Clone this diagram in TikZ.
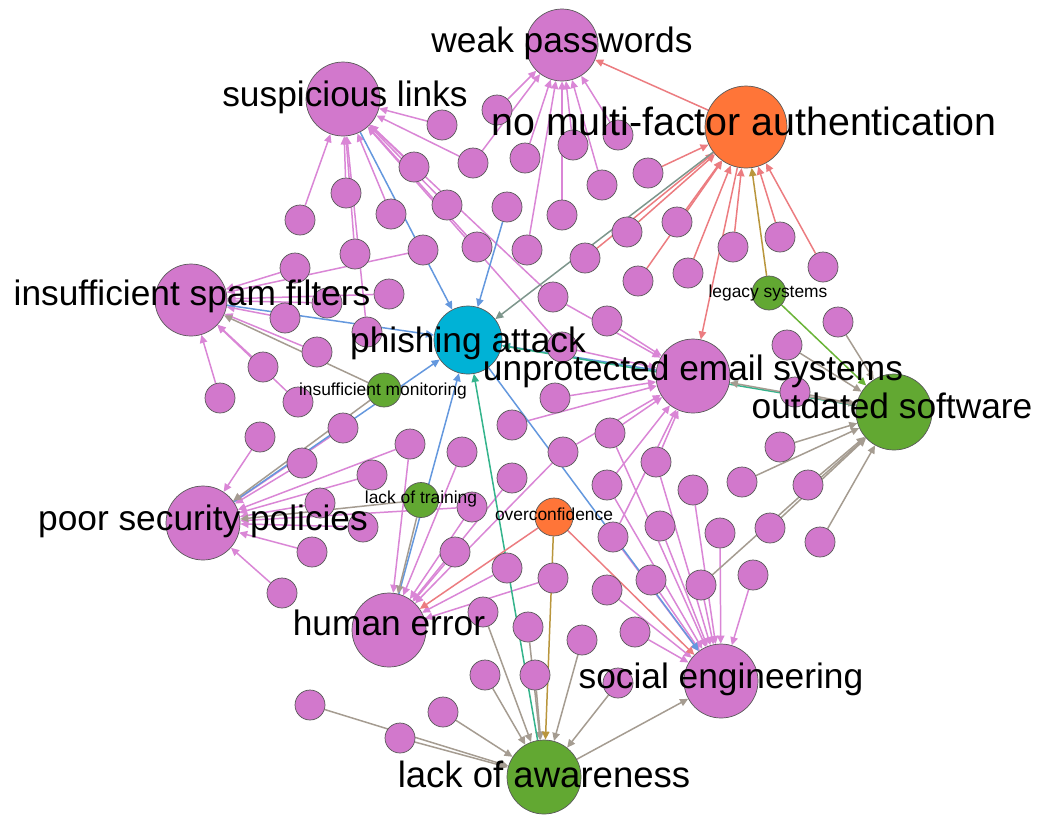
\documentclass[tikz,border=0pt]{standalone}
\usepackage{fontspec}
\setmainfont{Liberation Sans}
\usetikzlibrary{arrows.meta}
\pgfdeclarelayer{bg}
\pgfdeclarelayer{edges}
\pgfdeclarelayer{labels}
\pgfsetlayers{bg,edges,main,labels}

% node fills
\definecolor{hubpink}{RGB}{210,120,204}
\definecolor{hubcyan}{RGB}{0,178,214}
\definecolor{huborange}{RGB}{255,117,56}
\definecolor{hubgreen}{RGB}{98,168,50}
% edge colours (blend of the two end colours)
\definecolor{epink}{RGB}{218,134,214}
\definecolor{esalmon}{RGB}{236,124,128}
\definecolor{egrey}{RGB}{165,156,145}
\definecolor{eblue}{RGB}{100,152,222}
\definecolor{eteal}{RGB}{52,180,140}
\definecolor{egold}{RGB}{185,150,60}
\definecolor{egreen}{RGB}{105,180,55}
\definecolor{egreyg}{RGB}{125,150,140}

\newcommand\hubfont{\fontsize{20.1pt}{24pt}\selectfont}
\newcommand\mfafont{\fontsize{22.4pt}{26pt}\selectfont}
\newcommand\bigerfont{\fontsize{20.8pt}{25pt}\selectfont}
\newcommand\minorfont{\fontsize{9.9pt}{12pt}\selectfont}

\tikzset{
  hub/.style={circle, draw=black!65, line width=0.4pt, inner sep=0pt, minimum size=#1},
  leaf/.style={circle, draw=black!65, line width=0.4pt, inner sep=0pt, minimum size=0.6cm, fill=hubpink},
  edge/.style={line width=0.85pt, -{Triangle[length=4.6pt,width=4.2pt]}},
  lab/.style={inner sep=0pt, anchor=base, text=black}
}

\begin{document}
\begin{tikzpicture}[x=0.02cm,y=-0.02cm]
\useasboundingbox (0,0) rectangle (1050,819);
\begin{pgfonlayer}{bg}
\fill[white] (0,0) rectangle (1050,819);
\end{pgfonlayer}

% main concepts
\node[hub=1.44cm, fill=hubpink]   (wp)  at (562,45)  {};
\node[hub=1.48cm, fill=hubpink]   (sl)  at (343,99)  {};
\node[hub=1.64cm, fill=huborange] (mfa) at (746,127) {};
\node[hub=1.44cm, fill=hubpink]   (isf) at (191,300) {};
\node[hub=1.36cm, fill=hubcyan]   (pa)  at (468,340) {};
\node[hub=1.48cm, fill=hubpink]   (ues) at (693,376) {};
\node[hub=1.52cm, fill=hubgreen]  (os)  at (894,412) {};
\node[hub=1.48cm, fill=hubpink]   (psp) at (203,523) {};
\node[hub=1.48cm, fill=hubpink]   (he)  at (389,630) {};
\node[hub=1.48cm, fill=hubpink]   (se)  at (721,681) {};
\node[hub=1.48cm, fill=hubgreen]  (la)  at (544,777) {};
\node[hub=0.68cm, fill=hubgreen]  (ls)  at (769,293) {};
\node[hub=0.68cm, fill=hubgreen]  (im)  at (384,390) {};
\node[hub=0.70cm, fill=hubgreen]  (lt)  at (421,500) {};
\node[hub=0.76cm, fill=huborange] (oc)  at (554,517) {};

% unlabelled leaves
\foreach \n/\x/\y in {
  p1/497/110, p2/442/125, p3/414/167, p4/473/163, p5/525/158, p6/573/145,
  p7/618/135, p8/602/185, p9/648/173, p10/300/220, p11/346/193, p12/391/214,
  p13/447/205, p14/507/207, p15/562/215, p16/627/232, p17/677/222, p18/355/254,
  p19/423/250, p20/477/247, p21/527/250, p22/585/258, p23/638/281, p24/688/273,
  p25/733/247, p26/780/237, p27/823/267, p28/553/297, p29/607/321, p30/562/347,
  p31/295/268, p32/285/318, p33/327/303, p34/389/294, p35/367/332, p36/317/352,
  p37/263/367, p38/220/398, p39/298/402, p40/260/437, p41/302/463, p42/343/428,
  p43/320/503, p44/312/552, p45/282/593, p48/410/444, p49/462/452, p50/372/475,
  p51/363/527, p53/555/398, p54/512/425, p55/610/433, p56/563/452, p57/656/462,
  p58/512/478, p59/607/485, p60/693/490, p61/472/507, p62/613/537, p63/660/526,
  p64/455/552, p65/507/568, p66/553/578, p67/607/590, p68/651/580, p69/701/585,
  p70/753/575, p71/720/533, p72/770/528, p73/820/542, p74/742/482, p75/780/447,
  p76/808/485, p77/787/345, p78/838/322, p79/795/392, p80/483/612, p81/528/627,
  p82/582/640, p83/635/632, p84/485/675, p85/535/675, p86/618/683, p87/443/712,
  p88/400/738, p89/310/705}
  \node[leaf] (\n) at (\x,\y) {};

\begin{pgfonlayer}{edges}
% leaves into pink concepts
\foreach \s/\t in {
  p1/wp, p4/wp, p5/wp, p6/wp, p7/wp, p8/wp, p15/wp, p21/wp,
  p2/sl, p3/sl, p4/sl, p10/sl, p11/sl, p12/sl, p13/sl, p18/sl, p20/sl, p35/sl, p28/sl, p30/sl,
  p19/isf, p31/isf, p32/isf, p33/isf, p34/isf, p36/isf, p37/isf, p38/isf, p39/isf,
  p40/psp, p41/psp, p42/psp, p43/psp, p44/psp, p45/psp, p50/psp, p51/psp, p48/psp, p61/psp,
  p48/he, p49/he, p58/he, p61/he, p64/he, p65/he, p66/he, p56/he,
  p28/ues, p29/ues, p30/ues, p53/ues, p54/ues, p55/ues, p56/ues, p57/ues, p59/ues, p62/ues,
  p57/se, p60/se, p62/se, p63/se, p67/se, p68/se, p69/se, p70/se, p71/se, p83/se, p55/se, p59/se}
  \draw[edge, epink] (\s) -- (\t);
% leaves into the orange concept
\foreach \s in {p9, p16, p17, p22, p23, p24, p25, p26, p27}
  \draw[edge, esalmon] (\s) -- (mfa);
% leaves into green concepts
\foreach \s/\t in {
  p69/os, p72/os, p73/os, p74/os, p75/os, p76/os, p77/os, p78/os, p79/os,
  p80/la, p81/la, p82/la, p84/la, p85/la, p86/la, p87/la, p88/la, p89/la}
  \draw[edge, egrey] (\s) -- (\t);
% into phishing attack
\foreach \s in {p14, sl, isf, psp, he, ues}
  \draw[edge, eblue] (\s) -- (pa);
\draw[edge, eblue]   (pa)  -- (se);
\draw[edge, egreyg]  (mfa) -- (pa);
\draw[edge, eteal]   (os)  -- (pa);
\draw[edge, eteal]   (la)  -- (pa);
% links between concepts
\draw[edge, esalmon] (mfa) -- (wp);
\draw[edge, esalmon] (mfa) -- (ues);
\draw[edge, egrey]   (os)  -- (ues);
\draw[edge, egold]   (ls)  -- (mfa);
\draw[edge, egreen]  (ls)  -- (os);
\draw[edge, egrey]   (im)  -- (isf);
\draw[edge, egrey]   (im)  -- (psp);
\draw[edge, egrey]   (lt)  -- (psp);
\draw[edge, egrey]   (lt)  -- (he);
\draw[edge, esalmon] (oc)  -- (he);
\draw[edge, esalmon] (oc)  -- (se);
\draw[edge, egold]   (oc)  -- (la);
\draw[edge, egrey]   (la)  -- (se);
\end{pgfonlayer}

\begin{pgfonlayer}{labels}
\node[lab, font=\hubfont]   (t-wp)  at (562,52)  {weak passwords};
\node[lab, font=\hubfont]   (t-sl)  at (345,106) {suspicious links};
\node[lab, font=\mfafont]   (t-mfa) at (744,135) {no multi-factor authentication};
\node[lab, font=\hubfont]   (t-isf) at (192,305) {insufficient spam filters};
\node[lab, font=\hubfont]   (t-pa)  at (468,352) {phishing attack};
\node[lab, font=\hubfont]   (t-ues) at (693,380) {unprotected email systems};
\node[lab, font=\hubfont]   (t-os)  at (892,418) {outdated software};
\node[lab, font=\hubfont]   (t-psp) at (203,530) {poor security policies};
\node[lab, font=\hubfont]   (t-he)  at (389,635) {human error};
\node[lab, font=\hubfont]   (t-se)  at (721,688) {social engineering};
\node[lab, font=\bigerfont] (t-la)  at (544,787) {lack of awareness};
\node[lab, font=\minorfont] (t-ls)  at (768,297) {legacy systems};
\node[lab, font=\minorfont] (t-im)  at (383,395) {insufficient monitoring};
\node[lab, font=\minorfont] (t-lt)  at (421,503) {lack of training};
\node[lab, font=\minorfont] (t-oc)  at (554,520) {overconfidence};
\end{pgfonlayer}
\end{tikzpicture}
\end{document}
